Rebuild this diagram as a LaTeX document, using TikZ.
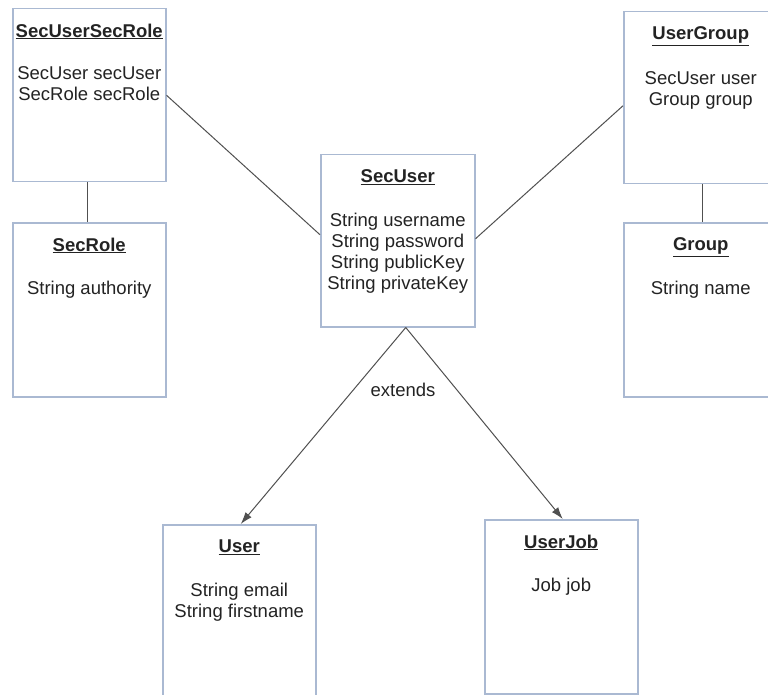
\documentclass[tikz,border=0pt]{standalone}
\usepackage{fontspec}
\setmainfont{Liberation Sans}
\usetikzlibrary{arrows.meta}
\definecolor{boxline}{RGB}{170,185,210}
\definecolor{conn}{RGB}{80,80,80}
\definecolor{txt}{RGB}{35,35,35}
\begin{document}
\begin{tikzpicture}[x=1pt,y=-1pt,
  umlbox/.style={draw=boxline, line width=1.5pt, fill=white, inner sep=0pt, anchor=north west},
  titletext/.style={anchor=north, inner sep=0pt, font=\bfseries\fontsize{18.5}{21}\selectfont, text=txt},
  attrs/.style={anchor=north, inner sep=0pt, align=center, font=\fontsize{18.5}{21}\selectfont, text=txt},
  link/.style={draw=conn, line width=1pt},
  extarrow/.style={link, -{Latex[length=12pt,width=8pt]}}]
\useasboundingbox (0,0) rectangle (768,695);
\clip (0,0) rectangle (768,695);
\fill[white] (0,0) rectangle (768,695);

% boxes
\node[umlbox, minimum width=153pt, minimum height=173pt] (sursr) at (12,8) {};
\node[umlbox, minimum width=153pt, minimum height=174pt] (secrole) at (12,222) {};
\node[umlbox, minimum width=154pt, minimum height=172pt] (secuser) at (320,154) {};
\node[umlbox, minimum width=154pt, minimum height=172pt] (usergroup) at (623,11) {};
\node[umlbox, minimum width=154pt, minimum height=174pt] (group) at (623,222) {};
\node[umlbox, minimum width=153pt, minimum height=172pt] (user) at (162,524) {};
\node[umlbox, minimum width=153pt, minimum height=174pt] (userjob) at (484,519) {};

% titles
\node[titletext] (tsursr) at ([yshift=-15.5pt]sursr.north) {\underline{SecUserSecRole}};
\node[titletext] (tsecrole) at ([yshift=-15.5pt]secrole.north) {\underline{SecRole}};
\node[titletext] (tsecuser) at ([yshift=-15.5pt]secuser.north) {\underline{SecUser}};
\node[titletext] (tusergroup) at ([yshift=-15.5pt]usergroup.north) {\underline{UserGroup}};
\node[titletext] (tgroup) at ([yshift=-15.5pt]group.north) {\underline{Group}};
\node[titletext] (tuser) at ([yshift=-15.5pt]user.north) {\underline{User}};
\node[titletext] (tuserjob) at ([yshift=-15.5pt]userjob.north) {\underline{UserJob}};

% attributes
\node[attrs] (asursr) at ([yshift=-58.5pt]sursr.north) {SecUser secUser\\SecRole secRole};
\node[attrs] (asecrole) at ([yshift=-58.5pt]secrole.north) {String authority};
\node[attrs] (asecuser) at ([yshift=-58.5pt]secuser.north) {String username\\String password\\String publicKey\\String privateKey};
\node[attrs] (ausergroup) at ([yshift=-60pt]usergroup.north) {SecUser user\\Group group};
\node[attrs] (agroup) at ([yshift=-58.5pt]group.north) {String name};
\node[attrs] (auser) at ([yshift=-58.5pt]user.north) {String email\\String firstname};
\node[attrs] (auserjob) at ([yshift=-59pt]userjob.north) {Job job};

% connectors
\draw[link] (sursr.east) -- ([yshift=6pt]secuser.west);
\draw[link] ([xshift=-1.5pt]sursr.south) -- ([xshift=-1.5pt]secrole.north);
\draw[link] ([yshift=2pt]secuser.east) -- ([yshift=-8pt]usergroup.west);
\draw[link] ([xshift=2pt]usergroup.south) -- ([xshift=2pt]group.north);
\draw[extarrow] ([xshift=8pt]secuser.south) -- ([xshift=1.5pt]user.north);
\draw[extarrow] ([xshift=8pt]secuser.south) -- ([xshift=1.5pt]userjob.north);
\node[font=\fontsize{18.5}{21}\selectfont, text=txt, inner sep=0pt] (ext) at (403,390) {extends};
\end{tikzpicture}
\end{document}
